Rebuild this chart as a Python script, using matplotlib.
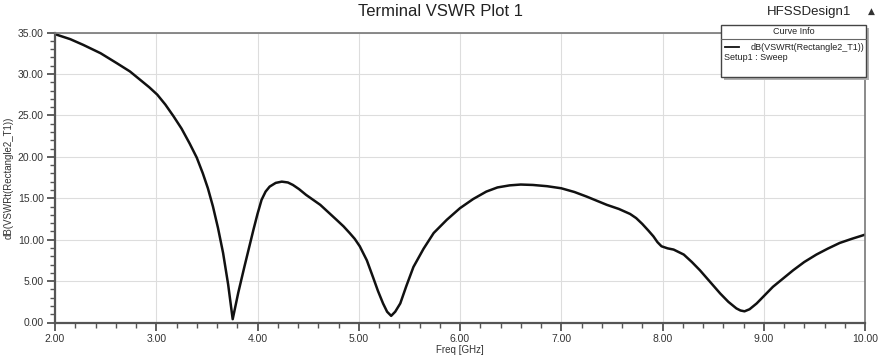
import numpy as np
import matplotlib
matplotlib.use("Agg")
import matplotlib.pyplot as plt
from matplotlib.ticker import MultipleLocator, FormatStrFormatter
from matplotlib.patches import Rectangle

plt.rcParams['font.family'] = ['Liberation Sans', 'DejaVu Sans']

# Curve data (freq in GHz, dB(VSWR))
freq = [2.00, 2.15, 2.28, 2.45, 2.61, 2.74, 2.84, 2.93, 3.01, 3.09, 3.17,
        3.25, 3.33, 3.40, 3.46, 3.51, 3.56, 3.61, 3.66, 3.71, 3.755,
        3.81, 3.87, 3.92, 3.96, 4.00, 4.04, 4.08, 4.12, 4.18, 4.24, 4.30,
        4.35, 4.41, 4.48, 4.55, 4.62, 4.70, 4.78, 4.85, 4.91, 4.96, 5.01,
        5.08, 5.14, 5.19, 5.24, 5.28, 5.32, 5.36, 5.41, 5.47, 5.54, 5.64,
        5.74, 5.87, 6.00, 6.13, 6.26, 6.37, 6.49, 6.60, 6.72, 6.86, 7.00,
        7.13, 7.25, 7.35, 7.45, 7.57, 7.68, 7.74, 7.80, 7.86, 7.91, 7.95,
        7.99, 8.05, 8.11, 8.16, 8.21, 8.29, 8.37, 8.47, 8.57, 8.65, 8.73,
        8.77, 8.81, 8.86, 8.93, 9.01, 9.09, 9.19, 9.29, 9.40, 9.52, 9.63,
        9.75, 9.87, 10.00]
vswr_db = [34.8, 34.2, 33.5, 32.5, 31.3, 30.3, 29.3, 28.4, 27.5, 26.3, 24.9,
           23.4, 21.6, 19.9, 18.0, 16.2, 14.0, 11.4, 8.4, 4.6, 0.4,
           3.6, 6.7, 9.2, 11.2, 13.1, 14.8, 15.8, 16.4, 16.85, 17.0, 16.9,
           16.6, 16.1, 15.4, 14.8, 14.2, 13.3, 12.4, 11.6, 10.8, 10.1, 9.2,
           7.5, 5.5, 3.8, 2.3, 1.3, 0.8, 1.3, 2.3, 4.4, 6.7, 8.9,
           10.8, 12.4, 13.8, 14.9, 15.8, 16.3, 16.55, 16.65, 16.6, 16.45, 16.2,
           15.75, 15.2, 14.7, 14.2, 13.7, 13.1, 12.6, 11.9, 11.1, 10.4, 9.7,
           9.2, 8.95, 8.8, 8.5, 8.2, 7.3, 6.3, 4.9, 3.5, 2.5, 1.7,
           1.45, 1.35, 1.6, 2.3, 3.3, 4.3, 5.3, 6.3, 7.3, 8.2, 8.9,
           9.6, 10.1, 10.6]

x_ticks = [2, 3, 4, 5, 6, 7, 8, 9, 10]
y_ticks = [0, 5, 10, 15, 20, 25, 30, 35]

fig = plt.figure(figsize=(8.81, 3.58), dpi=100)
ax = fig.add_axes([55/881, 1 - 322.5/358, 810/881, 290/358])

ax.plot(freq, vswr_db, color='#111111', lw=1.8)

ax.set_xlim(2, 10)
ax.set_ylim(0, 35)
ax.set_xticks(x_ticks)
ax.set_yticks(y_ticks)
ax.xaxis.set_minor_locator(MultipleLocator(0.2))
ax.yaxis.set_minor_locator(MultipleLocator(1))
ax.xaxis.set_major_formatter(FormatStrFormatter('%.2f'))
ax.yaxis.set_major_formatter(FormatStrFormatter('%.2f'))
ax.tick_params(which='major', length=6, width=1.2, color='#444444',
               labelsize=7.5, labelcolor='#333333', pad=2)
ax.tick_params(which='minor', length=3.5, width=1, color='#555555')
ax.grid(which='major', color='#dddddd', lw=0.8)

for side in ['left', 'bottom']:
    ax.spines[side].set_color('#555555')
    ax.spines[side].set_linewidth(1.6)
for side in ['top', 'right']:
    ax.spines[side].set_color('#777777')
    ax.spines[side].set_linewidth(1.2)

ax.set_xlabel('Freq [GHz]', fontsize=7, color='#333333', labelpad=1)
ax.set_ylabel('dB(VSWRt(Rectangle2_T1))', fontsize=7, color='#333333')
ax.yaxis.set_label_coords(-41/810, 0.5)

fig.text(440/881, 1 - 12/358, 'Terminal VSWR Plot 1', ha='center', va='center',
         fontsize=12, color='#222222')
fig.text(809/881, 1 - 12/358, 'HFSSDesign1', ha='center', va='center',
         fontsize=9.5, color='#222222')
fig.text(871/881, 1 - 11/358, '\u25b2', ha='center', va='center',
         fontsize=6.5, color='#333333', family=['DejaVu Sans'])

# Curve info box
def fx(px):
    return px / 881

def fy(py):
    return 1 - py / 358

bx0, bx1, by0, by1 = 721, 866, 25, 77
fig.patches.append(Rectangle((fx(bx0 + 3), fy(by1 + 3)), fx(bx1 - bx0), (by1 - by0) / 358,
                             transform=fig.transFigure, facecolor='#b0b0b0',
                             edgecolor='none', zorder=5))
fig.patches.append(Rectangle((fx(bx0), fy(by1)), fx(bx1 - bx0), (by1 - by0) / 358,
                             transform=fig.transFigure, facecolor='white',
                             edgecolor='#444444', lw=1, zorder=6))
fig.lines.append(plt.Line2D([fx(bx0), fx(bx1)], [fy(39), fy(39)],
                            transform=fig.transFigure, color='#666666', lw=0.8, zorder=7))
fig.text(fx((bx0 + bx1) / 2), fy(32), 'Curve Info', ha='center', va='center',
         fontsize=6.5, color='#222222', zorder=8)
fig.lines.append(plt.Line2D([fx(725), fx(739)], [fy(47), fy(47)],
                            transform=fig.transFigure, color='#111111', lw=1.3, zorder=7))
fig.text(fx(864), fy(47), 'dB(VSWRt(Rectangle2_T1))', ha='right', va='center',
         fontsize=6.5, color='#222222', zorder=8)
fig.text(fx(724), fy(57), 'Setup1 : Sweep', ha='left', va='center',
         fontsize=6.5, color='#222222', zorder=8)

fig.savefig('out.png', dpi=100)
